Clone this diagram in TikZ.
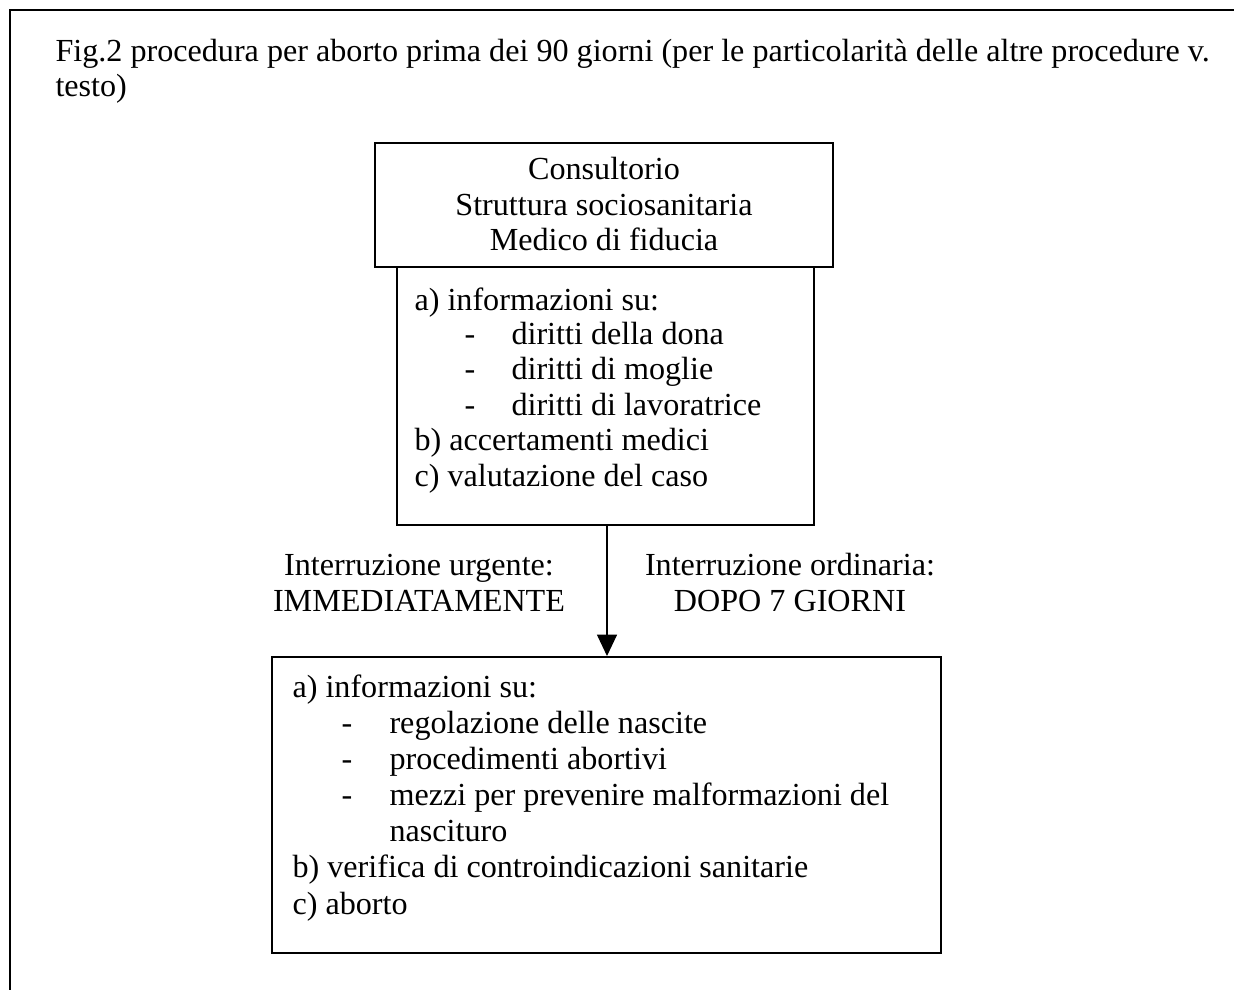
\documentclass[tikz,border=0pt]{standalone}
\usepackage{fontspec}
\setmainfont{Liberation Serif}
\usetikzlibrary{arrows.meta,fit}
\begin{document}
\begin{tikzpicture}[x=0.375pt,y=-0.375pt,
  frameline/.style={line width=0.75pt},
  boxstyle/.style={draw,line width=0.75pt,inner sep=0pt},
  txt/.style={anchor=base west,inner sep=0pt,font=\fontsize{12.05}{14}\selectfont},
  ctxt/.style={anchor=base,inner sep=0pt,font=\fontsize{12.05}{14}\selectfont},
  arr/.style={line width=0.4pt,-{Triangle[width=7.5pt,length=8pt]}}]
\useasboundingbox (0,0) rectangle (1234,989);
% outer frame (top and left)
\coordinate (fTR) at (1236,10);
\coordinate (fTL) at (10,10);
\coordinate (fBL) at (10,991);
\draw[frameline] (fTR) -- (fTL) -- (fBL);
% title
\node[txt] (title1) at (55,61) {Fig.2 procedura per aborto prima dei 90 giorni (per le particolarità delle altre procedure v.};
\node[txt] (title2) at (55,96) {testo)};
% box 1
\node[boxstyle, fit={(375,143) (833,267)}] (box1) {};
\node[ctxt] (b1l1) at (604,179) {Consultorio};
\node[ctxt] (b1l2) at (604,215) {Struttura sociosanitaria};
\node[ctxt] (b1l3) at (604,250) {Medico di fiducia};
% box 2
\node[boxstyle, fit={(397,267) (814,525)}] (box2) {};
\node[txt] (b2l1) at (414,310) {a) informazioni su:};
\node[txt] (b2d1) at (464,344) {-};
\node[txt] (b2l2) at (511,344) {diritti della dona};
\node[txt] (b2d2) at (464,379) {-};
\node[txt] (b2l3) at (511,379) {diritti di moglie};
\node[txt] (b2d3) at (464,415) {-};
\node[txt] (b2l4) at (511,415) {diritti di lavoratrice};
\node[txt] (b2l5) at (414,450) {b) accertamenti medici};
\node[txt] (b2l6) at (414,486) {c) valutazione del caso};
% labels
\node[ctxt] (lab1) at (419,575) {Interruzione urgente:};
\node[ctxt] (lab2) at (419,611) {IMMEDIATAMENTE};
\node[ctxt] (lab3) at (790,575) {Interruzione ordinaria:};
\node[ctxt] (lab4) at (790,611) {DOPO 7 GIORNI};
% box 3
\node[boxstyle, fit={(272,657) (941,953)}] (box3) {};
\node[txt] (b3l1) at (292,697) {a) informazioni su:};
\node[txt] (b3d1) at (341,733) {-};
\node[txt] (b3l2) at (389,733) {regolazione delle nascite};
\node[txt] (b3d2) at (341,769) {-};
\node[txt] (b3l3) at (389,769) {procedimenti abortivi};
\node[txt] (b3d3) at (341,805) {-};
\node[txt] (b3l4) at (389,805) {mezzi per prevenire malformazioni del};
\node[txt] (b3l5) at (389,841) {nascituro};
\node[txt] (b3l6) at (292,877) {b) verifica di controindicazioni sanitarie};
\node[txt] (b3l7) at (292,914) {c) aborto};
% arrow
\coordinate (ax) at (607,0);
\draw[arr] (box2.south -| ax) -- (box3.north -| ax);
\end{tikzpicture}
\end{document}
